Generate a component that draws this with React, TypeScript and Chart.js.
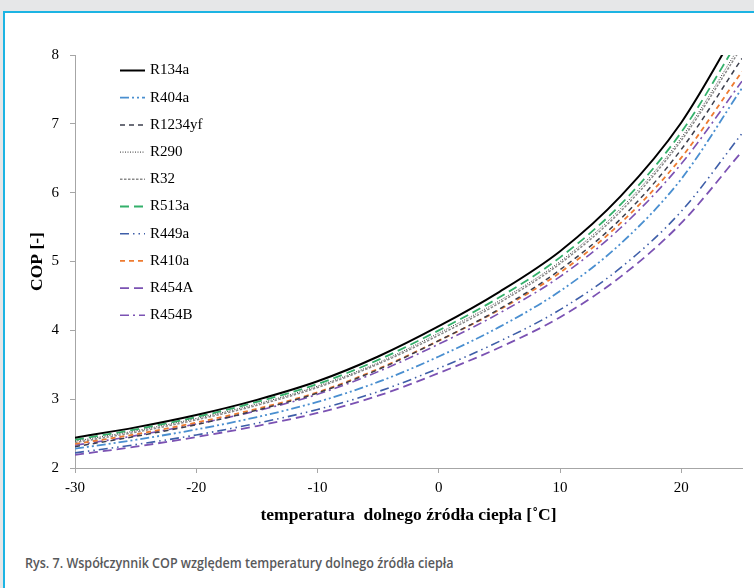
import React, { useEffect, useRef, useLayoutEffect, useState } from 'react';
import { Chart, registerables } from 'chart.js';

Chart.register(...registerables);

// ---- Data ----
const temps = [-30, -25, -20, -15, -10, -5, 0, 5, 10, 15, 20, 25];

const r134a = [2.44, 2.59, 2.77, 2.99, 3.26, 3.62, 4.06, 4.56, 5.15, 5.95, 7.02, 8.5];
const r404a = [2.28, 2.41, 2.56, 2.74, 2.96, 3.25, 3.62, 4.05, 4.57, 5.26, 6.2, 7.52];
const r1234yf = [2.31, 2.46, 2.63, 2.84, 3.09, 3.43, 3.85, 4.31, 4.88, 5.62, 6.63, 7.95];
const r290 = [2.39, 2.54, 2.72, 2.93, 3.19, 3.53, 3.96, 4.43, 5.0, 5.77, 6.8, 8.18];
const r32 = [2.37, 2.52, 2.7, 2.91, 3.17, 3.51, 3.93, 4.4, 4.97, 5.73, 6.76, 8.12];
const r513a = [2.41, 2.56, 2.74, 2.96, 3.22, 3.57, 4.0, 4.48, 5.06, 5.83, 6.88, 8.3];
const r449a = [2.22, 2.34, 2.48, 2.65, 2.85, 3.11, 3.45, 3.84, 4.3, 4.91, 5.73, 6.86];
const r410a = [2.35, 2.49, 2.66, 2.86, 3.1, 3.44, 3.85, 4.3, 4.84, 5.56, 6.51, 7.76];
const r454A = [2.19, 2.31, 2.45, 2.61, 2.8, 3.05, 3.38, 3.75, 4.19, 4.78, 5.56, 6.6];
const r454B = [2.33, 2.47, 2.64, 2.83, 3.07, 3.4, 3.8, 4.25, 4.78, 5.49, 6.42, 7.62];

const seriesLabels = ['R134a', 'R404a', 'R1234yf', 'R290', 'R32', 'R513a', 'R449a', 'R410a', 'R454A', 'R454B'];
const seriesValues = [r134a, r404a, r1234yf, r290, r32, r513a, r449a, r410a, r454A, r454B];

const xMin = -30;
const xMax = 25;
const yMin = 2;
const yMax = 8;

const xTitle = 'temperatura  dolnego źródła ciepła [˚C]';
const yTitle = 'COP [-]';
const caption = 'Rys. 7. Współczynnik COP względem temperatury dolnego źródła ciepła';

// ---- Styles ----
const seriesStyles = [
  { color: '#000000', dash: [] as number[], width: 2 },
  { color: '#4a8fd0', dash: [9, 3, 2, 3, 2, 3], width: 1.8 },
  { color: '#3c3f4d', dash: [5, 4], width: 1.5 },
  { color: '#333333', dash: [1, 1.5], width: 1 },
  { color: '#8a8a8a', dash: [2.5, 1.5], width: 1.5 },
  { color: '#33b06a', dash: [9, 5], width: 1.8 },
  { color: '#3e5ea8', dash: [9, 4, 1.5, 4, 1.5, 4], width: 1.6 },
  { color: '#ee7b30', dash: [5, 4], width: 1.8 },
  { color: '#7b52b3', dash: [9, 5], width: 1.8 },
  { color: '#7b52b3', dash: [9, 4, 2, 4], width: 1.6 },
];

const SERIF = '"Liberation Serif", "Times New Roman", serif';

const insideLegend = {
  id: 'insideLegend',
  afterDatasetsDraw(chart: any) {
    const { ctx, chartArea } = chart;
    ctx.save();
    chart.data.datasets.forEach((ds: any, i: number) => {
      const y = chartArea.top + 15.5 + i * 27.2;
      const x0 = chartArea.left + 45;
      const x1 = chartArea.left + 70;
      ctx.beginPath();
      ctx.setLineDash(ds.borderDash || []);
      ctx.strokeStyle = ds.borderColor;
      ctx.lineWidth = ds.borderWidth;
      ctx.moveTo(x0, y);
      ctx.lineTo(x1, y);
      ctx.stroke();
      ctx.setLineDash([]);
      ctx.fillStyle = '#000';
      ctx.font = '15px ' + SERIF;
      ctx.textBaseline = 'middle';
      ctx.textAlign = 'left';
      ctx.fillText(ds.label, chartArea.left + 75, y);
    });
    ctx.restore();
  },
};

function Caption() {
  const ref = useRef<HTMLSpanElement>(null);
  const [scale, setScale] = useState(1);
  useLayoutEffect(() => {
    if (ref.current) {
      const w = ref.current.offsetWidth;
      if (w > 0) setScale(429 / w);
    }
  }, []);
  return (
    <div style={{ position: 'absolute', left: 25, top: 553, whiteSpace: 'nowrap' }}>
      <span
        ref={ref}
        style={{
          display: 'inline-block',
          fontFamily: '"Open Sans", "Noto Sans", sans-serif',
          fontWeight: 600,
          fontSize: 14,
          color: '#58595b',
          transform: `scaleX(${scale})`,
          transformOrigin: 'left center',
          lineHeight: '20px',
        }}
      >
        {caption}
      </span>
    </div>
  );
}

export default function App() {
  const canvasRef = useRef<HTMLCanvasElement>(null);

  useEffect(() => {
    if (!canvasRef.current) return;
    const datasets = seriesLabels.map((label, i) => ({
      label,
      data: temps.map((t, j) => ({ x: t, y: seriesValues[i][j] })),
      borderColor: seriesStyles[i].color,
      backgroundColor: seriesStyles[i].color,
      borderDash: seriesStyles[i].dash,
      borderWidth: seriesStyles[i].width,
      pointRadius: 0,
      cubicInterpolationMode: 'monotone' as const,
      fill: false,
    }));

    const chart = new Chart(canvasRef.current, {
      type: 'line',
      data: { datasets },
      plugins: [insideLegend],
      options: {
        animation: false,
        responsive: false,
        maintainAspectRatio: false,
        layout: { padding: { left: 20, right: 12, top: 55, bottom: 0 } },
        plugins: {
          legend: { display: false },
          tooltip: { enabled: false },
        },
        scales: {
          x: {
            type: 'linear',
            min: xMin,
            max: xMax,
            afterFit: (scale: any) => {
              scale.height = 72;
            },
            ticks: {
              stepSize: 10,
              includeBounds: false,
              padding: 6,
              color: '#000',
              font: { family: SERIF, size: 15 },
              maxRotation: 0,
            },
            grid: {
              drawOnChartArea: false,
              drawTicks: true,
              tickLength: 5,
              color: '#a6a6a6',
            },
            border: { display: true, color: '#a6a6a6', width: 1 },
            title: {
              display: true,
              text: xTitle,
              color: '#000',
              font: { family: SERIF, size: 17.5, weight: 'bold' },
              padding: { top: 0, bottom: 14.5 },
            },
          },
          y: {
            type: 'linear',
            min: yMin,
            max: yMax,
            afterFit: (scale: any) => {
              scale.width = 55;
            },
            ticks: {
              stepSize: 1,
              padding: 11,
              color: '#000',
              font: { family: SERIF, size: 15 },
            },
            grid: {
              drawOnChartArea: false,
              drawTicks: true,
              tickLength: 5,
              color: '#a6a6a6',
            },
            border: { display: true, color: '#a6a6a6', width: 1 },
            title: {
              display: true,
              text: yTitle,
              color: '#000',
              font: { family: SERIF, size: 17.5, weight: 'bold' },
              padding: { top: 6.5, bottom: 0 },
            },
          },
        },
      },
    } as any);
    return () => chart.destroy();
  }, []);

  return (
    <div style={{ position: 'fixed', left: 0, top: 0, width: 754, height: 588, background: '#e6e7e8', overflow: 'hidden' }}>
      <div
        style={{
          position: 'absolute',
          left: 3,
          top: 11,
          right: -30,
          bottom: -30,
          background: '#ffffff',
          borderLeft: '2px solid #1cb4e3',
          borderTop: '2px solid #1cb4e3',
        }}
      />
      <canvas
        ref={canvasRef}
        width={754}
        height={540}
        style={{ position: 'absolute', left: 0, top: 0, width: 754, height: 540 }}
      />
      <Caption />
    </div>
  );
}
